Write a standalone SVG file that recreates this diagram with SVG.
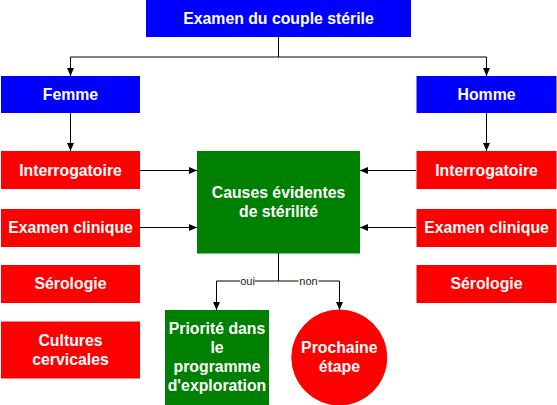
<svg xmlns="http://www.w3.org/2000/svg" width="557" height="405" viewBox="0 0 557 405">
  <style>
    .blue { fill: #0000ff; stroke: #0000ff; }
    .red { fill: #ff0000; stroke: #ff0000; }
    .green { fill: #008000; stroke: #008000; }
    .t { font-family: "Liberation Sans", Arial, sans-serif; font-size: 15.8px; font-weight: bold; fill: #ffffff; text-anchor: middle; }
    .edge { fill: none; stroke: #000000; stroke-width: 1; }
    .lbl { font-family: "Liberation Sans", Arial, sans-serif; font-size: 11px; fill: #1a1a1a; text-anchor: middle; }
  </style>
  <defs>
    <marker id="arr" viewBox="0 0 8 8" refX="8" refY="4" markerWidth="8" markerHeight="8" markerUnits="userSpaceOnUse" orient="auto">
      <path d="M0,0.5 L8,4 L0,7.5 Z" fill="#000000"/>
    </marker>
  </defs>
  <rect width="557" height="405" fill="#ffffff"/>

  <g id="connectors">
    <path class="edge" d="M278.5,37 V57 H70.5 V76" marker-end="url(#arr)"/>
    <path class="edge" d="M278.5,37 V57 H486.5 V76" marker-end="url(#arr)"/>
    <path class="edge" d="M70.5,113 V151" marker-end="url(#arr)"/>
    <path class="edge" d="M486.5,113 V151" marker-end="url(#arr)"/>
    <path class="edge" d="M140,170.5 H197" marker-end="url(#arr)"/>
    <path class="edge" d="M140,227.5 H197" marker-end="url(#arr)"/>
    <path class="edge" d="M416,170.5 H360" marker-end="url(#arr)"/>
    <path class="edge" d="M416,227.5 H360" marker-end="url(#arr)"/>
    <path class="edge" d="M278.5,253 V281 H216.5 V310" marker-end="url(#arr)"/>
    <path class="edge" d="M278.5,253 V281 H339.5 V310" marker-end="url(#arr)"/>
    <rect x="240" y="275" width="15" height="12" fill="#ffffff"/>
    <text class="lbl" x="247.5" y="285">oui</text>
    <rect x="298.5" y="275" width="20" height="12" fill="#ffffff"/>
    <text class="lbl" x="308.5" y="285">non</text>
  </g>

  <g id="examen">
    <rect class="blue" x="146.5" y="-0.5" width="264" height="37"/>
    <text class="t" x="278.5" y="23.5">Examen du couple stérile</text>
  </g>
  <g id="femme">
    <rect class="blue" x="1.5" y="76.5" width="138" height="36"/>
    <text class="t" x="70.5" y="100">Femme</text>
  </g>
  <g id="homme">
    <rect class="blue" x="417" y="76.5" width="139" height="36"/>
    <text class="t" x="486.5" y="100">Homme</text>
  </g>
  <g id="interro-f">
    <rect class="red" x="1.5" y="151.5" width="138" height="37"/>
    <text class="t" x="70.5" y="175.5">Interrogatoire</text>
  </g>
  <g id="clinique-f">
    <rect class="red" x="1.5" y="209.5" width="138" height="37"/>
    <text class="t" x="70.5" y="233">Examen clinique</text>
  </g>
  <g id="sero-f">
    <rect class="red" x="1.5" y="265.5" width="138" height="37"/>
    <text class="t" x="70.5" y="289">Sérologie</text>
  </g>
  <g id="cultures">
    <rect class="red" x="1.5" y="322" width="138" height="56"/>
    <text class="t" x="70.5" y="345.5">Cultures</text>
    <text class="t" x="70.5" y="364.5">cervicales</text>
  </g>
  <g id="interro-h">
    <rect class="red" x="417" y="151.5" width="139" height="37"/>
    <text class="t" x="486.5" y="175.5">Interrogatoire</text>
  </g>
  <g id="clinique-h">
    <rect class="red" x="417" y="209.5" width="139" height="37"/>
    <text class="t" x="486.5" y="233">Examen clinique</text>
  </g>
  <g id="sero-h">
    <rect class="red" x="417" y="265.5" width="139" height="37"/>
    <text class="t" x="486.5" y="289">Sérologie</text>
  </g>
  <g id="causes">
    <rect class="green" x="197.5" y="151.5" width="162" height="101.5"/>
    <text class="t" x="278.5" y="197.5">Causes évidentes</text>
    <text class="t" x="278.5" y="216.5">de stérilité</text>
  </g>
  <g id="priorite">
    <rect class="green" x="165.5" y="310.5" width="103" height="94"/>
    <text class="t" x="217" y="333.5">Priorité dans</text>
    <text class="t" x="217" y="352.5">le</text>
    <text class="t" x="217" y="371.5">programme</text>
    <text class="t" x="217" y="390.5">d'exploration</text>
  </g>
  <g id="prochaine">
    <circle class="red" cx="339.3" cy="357.5" r="47.5"/>
    <text class="t" x="339.3" y="352.5">Prochaine</text>
    <text class="t" x="339.3" y="371.5">étape</text>
  </g>
</svg>
